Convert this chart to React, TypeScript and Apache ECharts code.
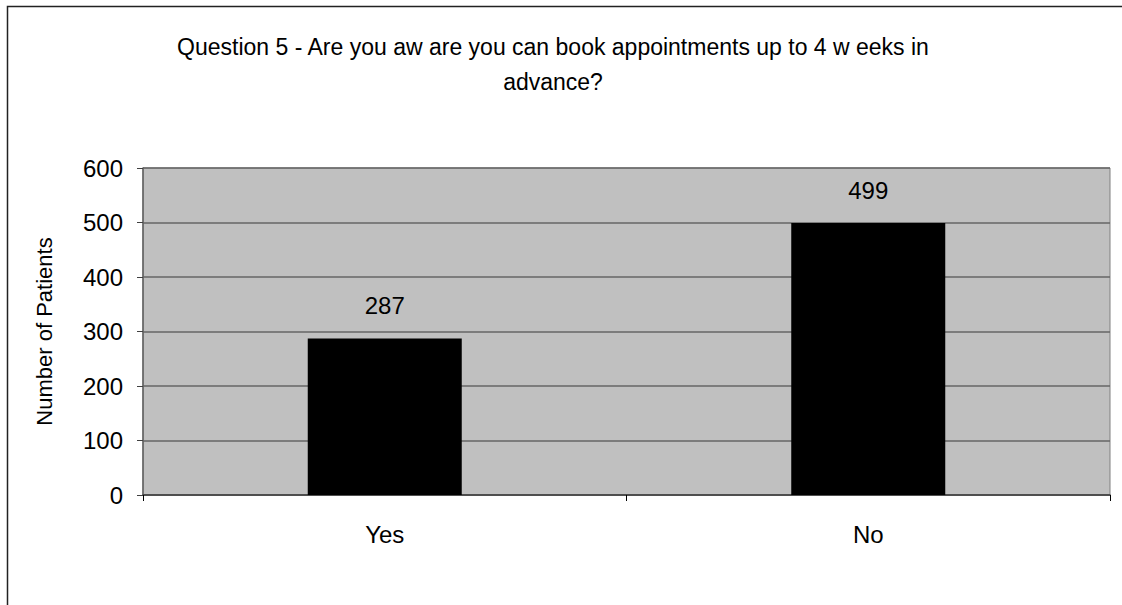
import React, { useEffect, useRef } from "react";
import * as echarts from "echarts";

const titleLines = [
  "Question 5 - Are you aw are you can book appointments up to 4 w eeks in",
  "advance?",
];
const categories = ["Yes", "No"];
const patients = [287, 499];
const yAxisName = "Number of Patients";

export default function App() {
  const ref = useRef<HTMLDivElement>(null);
  useEffect(() => {
    if (!ref.current) return;
    const chart = echarts.init(ref.current, undefined, { renderer: "svg" });
    const font = "'Liberation Sans', Arial, sans-serif";
    chart.setOption({
      animation: false,
      backgroundColor: "#ffffff",
      textStyle: { fontFamily: font },
      graphic: [
        {
          type: "rect",
          shape: { x: 7.5, y: 6.5, width: 1300, height: 800 },
          style: { fill: "none", stroke: "#222", lineWidth: 1.5 },
          silent: true,
        },
        {
          type: "text",
          x: 553,
          y: 47,
          style: {
            text: titleLines[0],
            font: `23px ${font}`,
            fill: "#000",
            align: "center",
            verticalAlign: "middle",
          },
        },
        {
          type: "text",
          x: 553,
          y: 82,
          style: {
            text: titleLines[1],
            font: `23px ${font}`,
            fill: "#000",
            align: "center",
            verticalAlign: "middle",
          },
        },
      ],
      grid: {
        left: 143,
        top: 168,
        width: 967,
        height: 327,
        show: true,
        backgroundColor: "#c0c0c0",
        borderColor: "#808080",
        borderWidth: 1,
      },
      xAxis: {
        type: "category",
        data: categories,
        axisLine: { show: true, lineStyle: { color: "#404040", width: 1.5 } },
        axisTick: { show: true, length: 6, lineStyle: { color: "#000" } },
        axisLabel: { color: "#000", fontSize: 24, margin: 27, fontFamily: font },
        splitLine: { show: false },
      },
      yAxis: {
        type: "value",
        min: 0,
        max: 600,
        interval: 100,
        name: yAxisName,
        nameLocation: "middle",
        nameGap: 88,
        nameTextStyle: { color: "#000", fontSize: 22, fontFamily: font },
        axisLine: { show: true, lineStyle: { color: "#606060", width: 1.5 } },
        axisTick: { show: true, length: 6, lineStyle: { color: "#404040" } },
        axisLabel: { color: "#000", fontSize: 24, margin: 20, fontFamily: font },
        splitLine: { show: true, lineStyle: { color: "#666666", width: 1.5 } },
      },
      series: [
        {
          type: "bar",
          data: patients,
          barWidth: 154,
          itemStyle: { color: "#000000" },
          label: {
            show: true,
            position: "top",
            distance: 21,
            color: "#000",
            fontSize: 24,
            fontFamily: font,
          },
        },
      ],
    });
    return () => chart.dispose();
  }, []);
  return (
    <div
      ref={ref}
      style={{ position: "fixed", left: 0, top: 0, width: 1122, height: 605 }}
    />
  );
}
